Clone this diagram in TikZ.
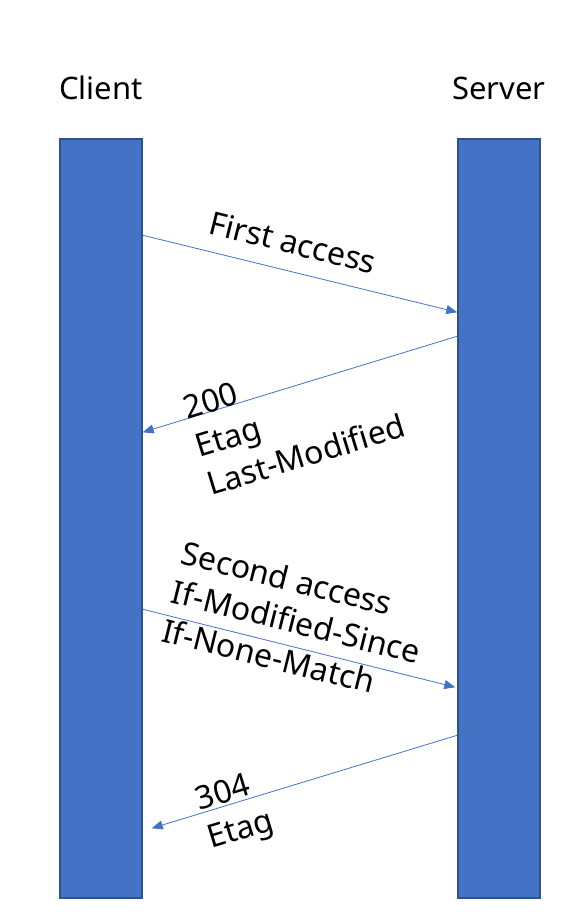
\documentclass[tikz,border=0pt]{standalone}
\usepackage{fontspec}
\setmainfont{Noto Sans}
\usepackage{tikz}
\usetikzlibrary{arrows.meta,positioning,calc}
\definecolor{barblue}{HTML}{4472C4}
\definecolor{bardark}{HTML}{2F528F}

\begin{document}
\begin{tikzpicture}[
  x=1pt,y=1pt,
  bar/.style={draw=bardark,line width=1.5pt,fill=barblue,minimum width=82pt,minimum height=759pt,inner sep=0pt},
  title/.style={font=\fontsize{31}{38}\selectfont,inner sep=0pt,anchor=base},
  msglabel/.style={font=\fontsize{32}{40}\selectfont,inner sep=0pt,align=left,anchor=base west},
  msg/.style={-{Triangle[length=11pt,width=9pt]},line width=0.8pt,draw=barblue}
]
\useasboundingbox (0,0) rectangle (585,-919);
\node[bar] (client) at (101,-518.5) {};
\node[bar] (server) at (499,-518.5) {};
\node[title] (clientname) at ([yshift=39pt]client.north) {Client};
\node[title] (servername) at ([yshift=39pt]server.north) {Server};
% requests and replies
\draw[msg] ([yshift=-97pt]client.north east) -- ([yshift=-174pt]server.north west);
\draw[msg] ([yshift=-198pt]server.north west) -- ([yshift=-294pt]client.north east);
\draw[msg] ([yshift=-471pt]client.north east) -- ([xshift=-2pt,yshift=-549pt]server.north west);
\draw[msg] ([yshift=-597pt]server.north west) -- ([xshift=9pt,yshift=-690pt]client.north east);
\node[msglabel,rotate=-14] (first) at (207,-233) {First access};
\node[msglabel,rotate=17] (reply1) at (211,-496) {200\\Etag\\Last-Modified};
\node[msglabel,rotate=-14] (second) at (160,-641) {Second access\\If-Modified-Since\\If-None-Match};
\node[msglabel,rotate=17] (reply2) at (211,-849) {304\\Etag};
\end{tikzpicture}
\end{document}
